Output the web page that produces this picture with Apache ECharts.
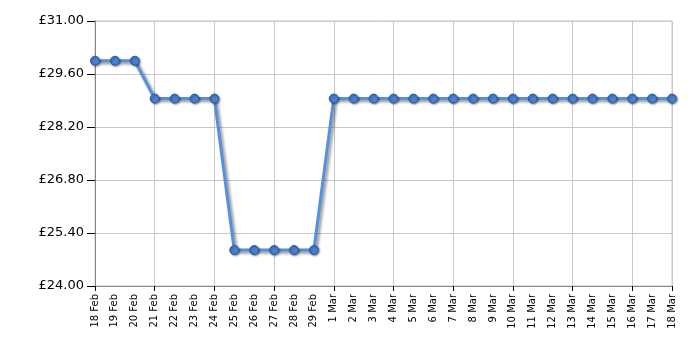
<!DOCTYPE html>
<html>
<head>
<meta charset="utf-8">
<script src="https://cdn.jsdelivr.net/npm/echarts@6/dist/echarts.min.js"></script>
<style>
  html, body { margin: 0; padding: 0; background: #fff; }
  #chart { width: 700px; height: 350px; }
</style>
</head>
<body>
<div id="chart"></div>
<script>
// dates along the x axis
const dates = [
    '18 Feb', '19 Feb', '20 Feb', '21 Feb', '22 Feb', '23 Feb', '24 Feb', '25 Feb',
    '26 Feb', '27 Feb', '28 Feb', '29 Feb', '1 Mar', '2 Mar', '3 Mar', '4 Mar',
    '5 Mar', '6 Mar', '7 Mar', '8 Mar', '9 Mar', '10 Mar', '11 Mar', '12 Mar',
    '13 Mar', '14 Mar', '15 Mar', '16 Mar', '17 Mar', '18 Mar'
]
// price in pounds
const prices = [
    29.95, 29.95, 29.95, 28.95, 28.95, 28.95, 28.95, 24.95,
    24.95, 24.95, 24.95, 24.95, 28.95, 28.95, 28.95, 28.95,
    28.95, 28.95, 28.95, 28.95, 28.95, 28.95, 28.95, 28.95,
    28.95, 28.95, 28.95, 28.95, 28.95, 28.95
]

const chart = echarts.init(document.getElementById('chart'))

const option = {
    animation: false,
    textStyle: {fontFamily: 'DejaVu Sans'},
    grid: {left: 95, right: 28, top: 21, bottom: 64, show: true, borderColor: '#c8c8c8', borderWidth: 1},
    xAxis: {
        type: 'category',
        data: dates,
        boundaryGap: false,
        axisLine: {lineStyle: {color: '#888', width: 1}},
        axisTick: {show: true, interval: 2, length: 5, lineStyle: {color: '#000'}},
        axisLabel: {interval: 0, rotate: 90, fontSize: 10, color: '#000', margin: 8},
        splitLine: {show: true, interval: 2, lineStyle: {color: '#c8c8c8'}}
    },
    yAxis: {
        type: 'value',
        min: 24,
        max: 31,
        interval: 1.4,
        axisLine: {show: true, lineStyle: {color: '#888', width: 1}},
        axisTick: {show: true, length: 8, lineStyle: {color: '#000'}},
        axisLabel: {
            fontSize: 13, color: '#000', margin: 11,
            formatter: v => '£' + v.toFixed(2)
        },
        splitLine: {lineStyle: {color: '#c8c8c8'}}
    },
    series: [{
        type: 'line',
        data: prices,
        symbol: 'circle',
        symbolSize: 9,
        lineStyle: {
            color: '#5591e0', width: 3,
            shadowColor: 'rgba(0,0,0,0.45)', shadowBlur: 3, shadowOffsetX: 2, shadowOffsetY: 2
        },
        itemStyle: {
            color: '#4a80d0', borderColor: '#2a5aa0', borderWidth: 1,
            shadowColor: 'rgba(0,0,0,0.4)', shadowBlur: 2, shadowOffsetX: 1, shadowOffsetY: 1
        }
    }]
}

chart.setOption(option)
</script>
</body>
</html>
